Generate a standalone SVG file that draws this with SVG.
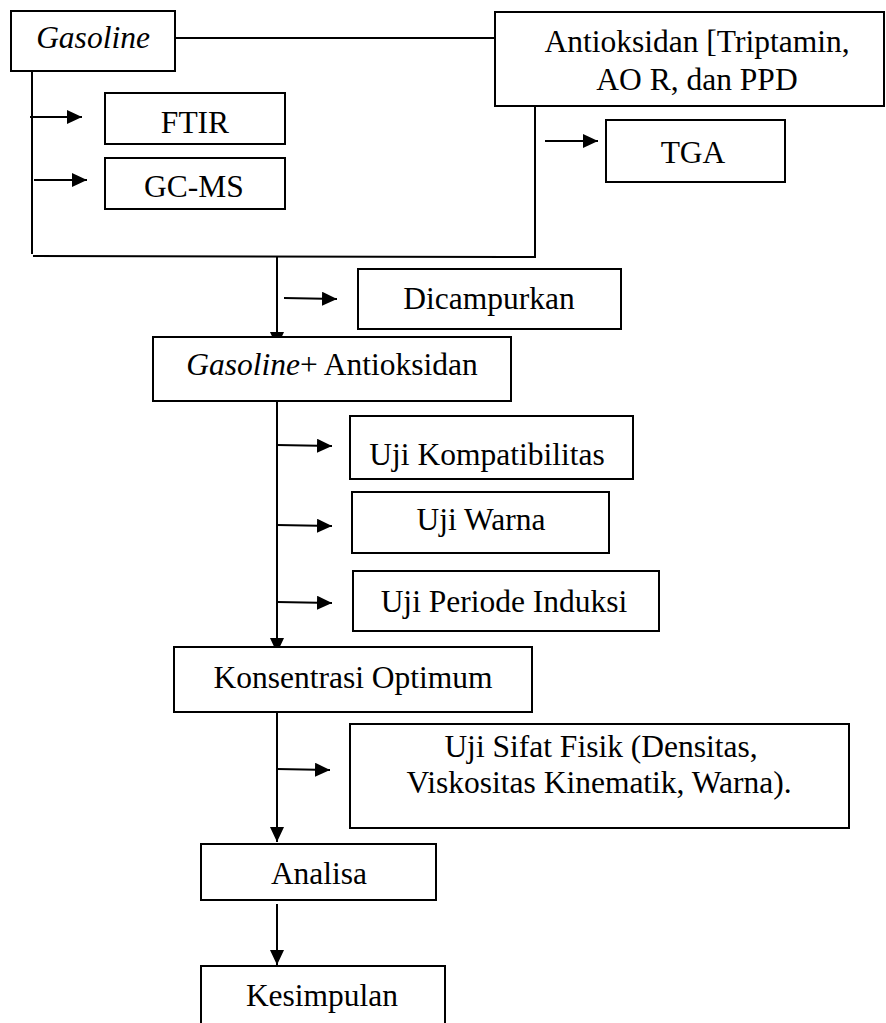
<svg xmlns="http://www.w3.org/2000/svg" width="886" height="1023" viewBox="0 0 886 1023">
<style>
.box{fill:#fff;stroke:#000;stroke-width:2}
.t{font-family:"Liberation Serif","Times New Roman",serif;font-size:31.5px;fill:#000;text-anchor:middle}
.i{font-style:italic}
.c{fill:none;stroke:#000;stroke-width:2}
</style>
<defs>
<marker id="ah" markerUnits="userSpaceOnUse" markerWidth="16" markerHeight="14" refX="15" refY="7" orient="auto">
<path d="M0,0 L15,7 L0,14 Z" fill="#000"/>
</marker>
</defs>
<rect width="886" height="1023" fill="#fff"/>
<g id="connectors">
<line class="c" x1="175" y1="38" x2="494" y2="38"/>
<line class="c" x1="32" y1="72" x2="32" y2="254"/>
<line class="c" x1="33" y1="256" x2="536" y2="257"/>
<line class="c" x1="535" y1="106" x2="535" y2="258"/>
<line class="c" x1="30" y1="117" x2="82" y2="117" marker-end="url(#ah)"/>
<line class="c" x1="34" y1="180" x2="87" y2="180" marker-end="url(#ah)"/>
<line class="c" x1="545" y1="141" x2="598" y2="141" marker-end="url(#ah)"/>
<line class="c" x1="277" y1="257" x2="277" y2="347" marker-end="url(#ah)"/>
<line class="c" x1="284" y1="298" x2="337" y2="299" marker-end="url(#ah)"/>
<line class="c" x1="277" y1="401" x2="277" y2="653" marker-end="url(#ah)"/>
<line class="c" x1="277" y1="445" x2="332" y2="446" marker-end="url(#ah)"/>
<line class="c" x1="277" y1="525" x2="332" y2="526" marker-end="url(#ah)"/>
<line class="c" x1="277" y1="602" x2="332" y2="603" marker-end="url(#ah)"/>
<line class="c" x1="277" y1="712" x2="277" y2="842" marker-end="url(#ah)"/>
<line class="c" x1="277" y1="769" x2="330" y2="770" marker-end="url(#ah)"/>
<line class="c" x1="277" y1="904" x2="277" y2="965" marker-end="url(#ah)"/>
</g>
<g id="n-gasoline"><rect class="box" x="11" y="11" width="164" height="60"/><text class="t i" x="93" y="48">Gasoline</text></g>
<g id="n-antioksidan"><rect class="box" x="495" y="12" width="389" height="94"/><text class="t" x="697" y="52">Antioksidan [Triptamin,</text><text class="t" x="697" y="90">AO R, dan PPD</text></g>
<g id="n-ftir"><rect class="box" x="105" y="93" width="180" height="51"/><text class="t" x="195" y="133">FTIR</text></g>
<g id="n-gcms"><rect class="box" x="105" y="158" width="180" height="51"/><text class="t" x="194" y="197">GC-MS</text></g>
<g id="n-tga"><rect class="box" x="606" y="120" width="179" height="62"/><text class="t" x="693" y="163">TGA</text></g>
<g id="n-dicampurkan"><rect class="box" x="358" y="269" width="263" height="60"/><text class="t" x="489" y="309">Dicampurkan</text></g>
<g id="n-campuran"><rect class="box" x="153" y="337" width="358" height="64"/><text class="t" x="332" y="375"><tspan class="i">Gasoline</tspan>+ Antioksidan</text></g>
<g id="n-kompatibilitas"><rect class="box" x="350" y="416" width="283" height="63"/><text class="t" x="487" y="465">Uji Kompatibilitas</text></g>
<g id="n-warna"><rect class="box" x="352" y="492" width="257" height="61"/><text class="t" x="481" y="530">Uji Warna</text></g>
<g id="n-induksi"><rect class="box" x="353" y="571" width="306" height="60"/><text class="t" x="504" y="612">Uji Periode Induksi</text></g>
<g id="n-konsentrasi"><rect class="box" x="174" y="647" width="358" height="65"/><text class="t" x="353" y="688">Konsentrasi Optimum</text></g>
<g id="n-sifatfisik"><rect class="box" x="350" y="724" width="499" height="104"/><text class="t" x="601" y="757">Uji Sifat Fisik (Densitas,</text><text class="t" x="599" y="793">Viskositas Kinematik, Warna).</text></g>
<g id="n-analisa"><rect class="box" x="201" y="844" width="235" height="56"/><text class="t" x="319" y="884">Analisa</text></g>
<g id="n-kesimpulan"><rect class="box" x="201" y="966" width="244" height="80"/><text class="t" x="322" y="1006">Kesimpulan</text></g>
</svg>
